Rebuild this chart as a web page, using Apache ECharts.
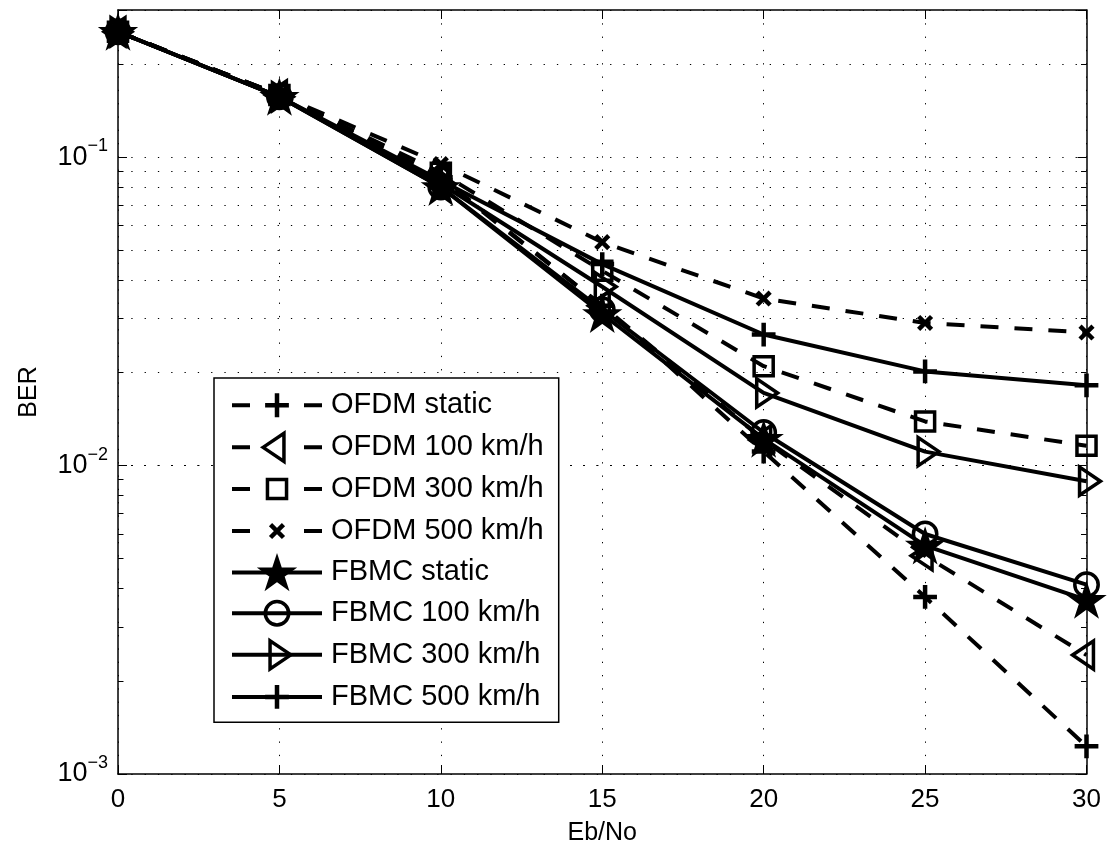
<!DOCTYPE html>
<html><head><meta charset="utf-8">
<script src="https://cdn.jsdelivr.net/npm/echarts@6/dist/echarts.min.js"></script>
<style>html,body{margin:0;padding:0;background:#fff}#chart{width:1109px;height:854px}</style>
</head><body><div id="chart"></div>
<script>
// ---- data ----
const ebNo = [0, 5, 10, 15, 20, 25, 30];
const ofdmStatic = [0.255, 0.159, 0.086, 0.033, 0.0111, 0.00375, 0.00123];
const ofdm100    = [0.255, 0.159, 0.085, 0.033, 0.0121, 0.0051, 0.00243];
const ofdm300    = [0.255, 0.159, 0.089, 0.0428, 0.021, 0.0139, 0.0116];
const ofdm500    = [0.255, 0.159, 0.095, 0.053, 0.0348, 0.029, 0.027];
const fbmcStatic = [0.255, 0.157, 0.080, 0.031, 0.0122, 0.0055, 0.00367];
const fbmc100    = [0.255, 0.157, 0.080, 0.032, 0.0128, 0.0060, 0.00411];
const fbmc300    = [0.255, 0.157, 0.082, 0.038, 0.0172, 0.0111, 0.0089];
const fbmc500    = [0.255, 0.157, 0.084, 0.045, 0.0266, 0.0202, 0.0182];
const seriesNames = ['OFDM static', 'OFDM 100 km/h', 'OFDM 300 km/h', 'OFDM 500 km/h',
                     'FBMC static', 'FBMC 100 km/h', 'FBMC 300 km/h', 'FBMC 500 km/h'];
const xTickValues = [0, 5, 10, 15, 20, 25, 30];
const yMinorGrid = [0.002, 0.003, 0.004, 0.005, 0.006, 0.007, 0.008, 0.009,
                    0.02, 0.03, 0.04, 0.05, 0.06, 0.07, 0.08, 0.09, 0.2];
const xLabel = 'Eb/No';
const yLabel = 'BER';

// ---- styles ----
const FONT = '"Liberation Sans", Arial, Helvetica, sans-serif';
const PAD = 'M0,0M100,100';
const SYM = {
  plus: 'path://' + PAD + 'M50,17L50,83M17,50L83,50',
  cross: 'path://' + PAD + 'M32,32L68,68M32,68L68,32',
  square: 'path://' + PAD + 'M23.5,23.5L76.5,23.5L76.5,76.5L23.5,76.5Z',
  triLeft: 'path://' + PAD + 'M11.3,50L69.3,11L69.3,89Z',
  triRight: 'path://' + PAD + 'M88.7,50L30.7,11L30.7,89Z',
  circle: 'path://' + PAD + 'M17.5,50A32.5,32.5,0,1,0,82.5,50A32.5,32.5,0,1,0,17.5,50Z',
  star: 'path://' + PAD + 'M50,4.77L61.23,39.32L97.55,39.32L68.17,60.67L79.39,95.22L50,73.87L20.61,95.22L31.83,60.67L2.45,39.32L38.77,39.32Z'
};
const NONE = 'rgba(0,0,0,0)';
const seriesDefs = [
  { values: ofdmStatic, sym: SYM.plus,     fill: NONE,   bw: 4.5, dashed: true },
  { values: ofdm100,    sym: SYM.triLeft,  fill: NONE,   bw: 3.5, dashed: true },
  { values: ofdm300,    sym: SYM.square,   fill: NONE,   bw: 3.5, dashed: true },
  { values: ofdm500,    sym: SYM.cross,    fill: NONE,   bw: 4.5, dashed: true },
  { values: fbmcStatic, sym: SYM.star,     fill: '#000', bw: 2,   dashed: false },
  { values: fbmc100,    sym: SYM.circle,   fill: NONE,   bw: 3.5, dashed: false },
  { values: fbmc300,    sym: SYM.triRight, fill: NONE,   bw: 3.5, dashed: false },
  { values: fbmc500,    sym: SYM.plus,     fill: NONE,   bw: 4.5, dashed: false }
];
const dotted = { color: '#000', width: 1, type: [1.3, 12] };

const series = seriesDefs.map((d, k) => ({
  name: seriesNames[k],
  type: 'line',
  data: ebNo.map((x, i) => [x, d.values[i]]),
  symbol: d.sym,
  symbolSize: 36,
  clip: false,
  z: 3 + k,
  lineStyle: { color: '#000', width: 4, type: d.dashed ? [18, 16] : 'solid', cap: 'butt' },
  itemStyle: { color: d.fill, borderColor: '#000', borderWidth: d.bw },
  emphasis: { disabled: true },
  animation: false
}));

// grid helpers (dotted minor grid + minor ticks) through the axis scales
const minorLines = [];
yMinorGrid.forEach(v => minorLines.push({ yAxis: v, lineStyle: dotted }));
yMinorGrid.forEach(v => {
  minorLines.push([{ coord: [0, v], lineStyle: { color: '#000', width: 1, type: 'solid' } }, { coord: [0.17, v] }]);
  minorLines.push([{ coord: [29.83, v], lineStyle: { color: '#000', width: 1, type: 'solid' } }, { coord: [30, v] }]);
});
series.unshift({
  name: '__grid', type: 'line', data: [], silent: true, z: 1,
  markLine: { silent: true, symbol: 'none', label: { show: false }, animation: false,
              lineStyle: dotted, emphasis: { disabled: true }, data: minorLines }
});

const legendData = seriesDefs.map((d, k) => ({
  name: seriesNames[k],
  lineStyle: { color: '#000', width: 4, type: d.dashed ? [18, 54] : 'solid', cap: 'butt' },
  itemStyle: { color: d.fill, borderColor: '#000', borderWidth: d.bw }
}));

function logLabel(v) {
  const l = Math.log10(v);
  const e = Math.round(l);
  if (Math.abs(l - e) > 1e-6) return '';
  return '{b|10}{s|' + (e < 0 ? '\u2212' : '') + Math.abs(e) + '}';
}

const chart = echarts.init(document.getElementById('chart'), null, { renderer: 'canvas' });
chart.setOption({
  animation: false,
  backgroundColor: '#fff',
  textStyle: { fontFamily: FONT },
  grid: { left: 118, right: 22.5, top: 10, bottom: 80, show: false },
  xAxis: [{
    type: 'value', min: 0, max: 30, interval: 5, position: 'bottom',
    name: xLabel, nameLocation: 'middle', nameGap: 47,
    nameTextStyle: { fontSize: 25, color: '#000', fontFamily: FONT },
    axisLine: { show: true, onZero: false, lineStyle: { color: '#000', width: 1.5 } },
    axisTick: { show: true, inside: true, length: 9, lineStyle: { color: '#000', width: 1 } },
    axisLabel: { fontSize: 26, color: '#000', margin: 13, fontFamily: FONT,
                 formatter: v => (xTickValues.indexOf(v) >= 0 ? String(v) : '') },
    splitLine: { show: true, lineStyle: dotted }
  }, {
    type: 'value', min: 0, max: 30, interval: 5, position: 'top',
    axisLine: { show: true, onZero: false, lineStyle: { color: '#000', width: 1.5 } },
    axisTick: { show: true, inside: true, length: 9, lineStyle: { color: '#000', width: 1 } },
    axisLabel: { show: false }, splitLine: { show: false }
  }],
  yAxis: [{
    type: 'log', logBase: 10, min: 0.001, max: 0.3, position: 'left',
    name: yLabel, nameLocation: 'middle', nameGap: 76, nameRotate: 90,
    nameTextStyle: { fontSize: 25, color: '#000', fontFamily: FONT },
    axisLine: { show: true, onZero: false, lineStyle: { color: '#000', width: 1.5 } },
    axisTick: { show: true, inside: true, length: 9, lineStyle: { color: '#000', width: 1 } },
    axisLabel: {
      color: '#000', margin: 10, formatter: logLabel,
      rich: {
        b: { fontSize: 27, fontFamily: FONT, color: '#000', lineHeight: 40, verticalAlign: 'middle' },
        s: { fontSize: 18, fontFamily: FONT, color: '#000', verticalAlign: 'top', lineHeight: 18 }
      }
    },
    splitLine: { show: true, lineStyle: dotted }
  }, {
    type: 'log', logBase: 10, min: 0.001, max: 0.3, position: 'right',
    axisLine: { show: true, onZero: false, lineStyle: { color: '#000', width: 1.5 } },
    axisTick: { show: true, inside: true, length: 9, lineStyle: { color: '#000', width: 1 } },
    axisLabel: { show: false }, splitLine: { show: false }
  }],
  legend: {
    orient: 'vertical', left: 214, top: 378,
    itemWidth: 90, itemHeight: 45, itemGap: 2.1,
    padding: [7, 15, 5, 16],
    borderColor: '#000', borderWidth: 1.5, backgroundColor: '#fff',
    selectedMode: false, z: 20,
    textStyle: { fontSize: 29, color: '#000', fontFamily: FONT, padding: [0, 0, 0, 4] },
    data: legendData
  },
  series: series
});
</script>
</body></html>
